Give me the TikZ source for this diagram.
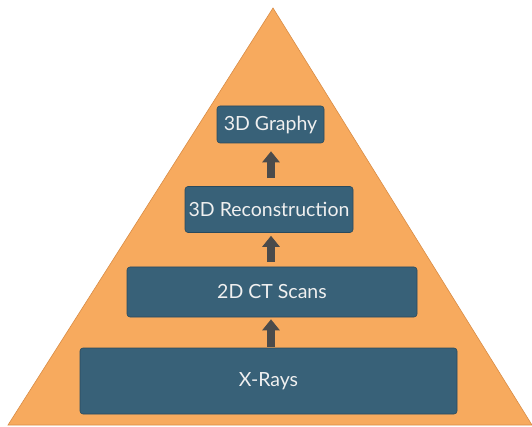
\documentclass[tikz,border=0pt]{standalone}
\usepackage{fontspec}
\setmainfont{Lato}
\usetikzlibrary{arrows.meta}
\usetikzlibrary{calc,positioning}

\definecolor{pyramid}{HTML}{F7AA5E}
\definecolor{pyramidline}{HTML}{D98C45}
\definecolor{stage}{HTML}{386178}
\definecolor{stageline}{HTML}{2A4A5C}
\definecolor{uparrow}{HTML}{4B4B4B}

\tikzset{
    stagebox/.style={draw=stageline, fill=stage, rounded corners=3pt, line width=0.6pt,
        text=white!94!black, font=\fontsize{19.5}{23}\selectfont, inner sep=0pt},
    levelup/.style={-{Triangle[width=17pt,length=11pt]}, line width=8.5pt, draw=uparrow}
}

\begin{document}
\begin{tikzpicture}[x=1pt, y=-1pt]

    \useasboundingbox (0,0) rectangle (532,427);

    \draw[fill=pyramid, draw=pyramidline, line width=0.6pt]
        (8,425) coordinate (L) -- (273,8) coordinate (T) -- (532,425) coordinate (R) -- cycle;

    \node[stagebox, minimum width=377pt, minimum height=66pt] (xray) at (268.5,381) {X-Rays};
    \node[stagebox, minimum width=290pt, minimum height=50pt] (ct) at (272,292) {2D CT Scans};
    \node[stagebox, minimum width=168pt, minimum height=46pt] (recon) at (269,209.5) {3D Reconstruction};
    \node[stagebox, minimum width=107pt, minimum height=37pt] (graphy) at (270.5,124.5) {3D Graphy};

    \draw[levelup, shorten <=1pt, shorten >=2pt] (xray.north -| 271,0) -- (ct.south -| 271,0);
    \draw[levelup, shorten <=5pt, shorten >=3pt] (ct.north -| 271,0) -- (recon.south -| 271,0);
    \draw[levelup, shorten <=8pt, shorten >=8pt] (recon.north -| 271,0) -- (graphy.south -| 271,0);

\end{tikzpicture}
\end{document}
